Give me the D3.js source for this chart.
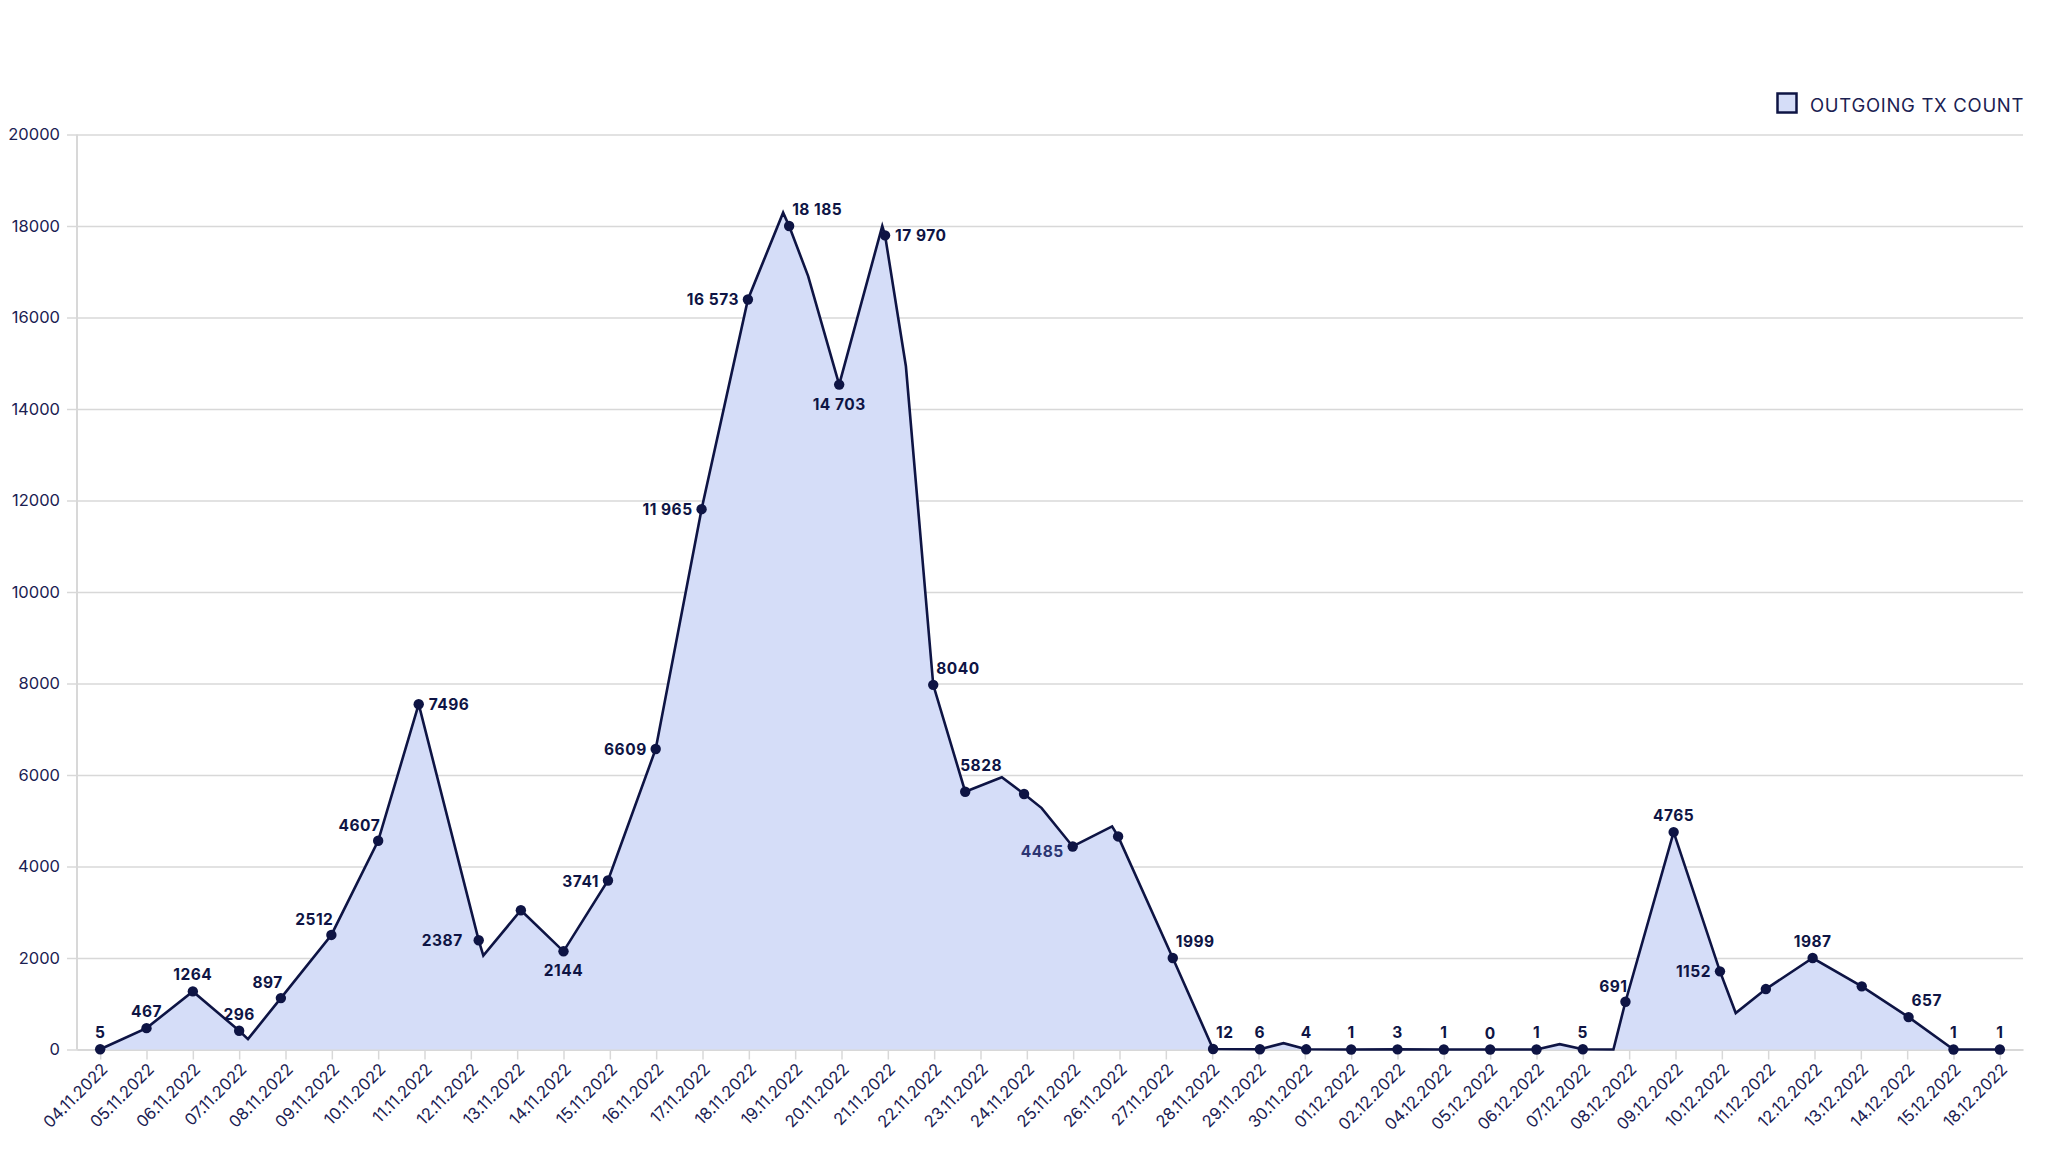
<!DOCTYPE html>
<html><head><meta charset="utf-8">
<script src="https://cdn.jsdelivr.net/npm/d3@7"></script>
<style>
html,body{margin:0;padding:0;background:#fff;}
svg{display:block;font-family:Inter,"Noto Sans",sans-serif;}
</style></head><body>
<svg id="chart" width="2048" height="1152"></svg>
<script>
// ---------- data ----------
const categories = ["04.11.2022","05.11.2022","06.11.2022","07.11.2022","08.11.2022","09.11.2022","10.11.2022","11.11.2022","12.11.2022","13.11.2022","14.11.2022","15.11.2022","16.11.2022","17.11.2022","18.11.2022","19.11.2022","20.11.2022","21.11.2022","22.11.2022","23.11.2022","24.11.2022","25.11.2022","26.11.2022","27.11.2022","28.11.2022","29.11.2022","30.11.2022","01.12.2022","02.12.2022","04.12.2022","05.12.2022","06.12.2022","07.12.2022","08.12.2022","09.12.2022","10.12.2022","11.12.2022","12.12.2022","13.12.2022","14.12.2022","15.12.2022","18.12.2022"];
// value labels printed next to the points (null = no label shown)
const labelValues = [5,467,1264,296,897,2512,4607,7496,2387,null,2144,3741,6609,11965,16573,18185,14703,17970,8040,5828,null,4485,null,1999,12,6,4,1,3,1,0,1,5,691,4765,1152,null,1987,null,657,1,1];
// height at which each point is drawn
const pointValues = [5,467,1270,409,1124,2504,4562,7547,2387,3044,2146,3693,6569,11810,16394,18000,14533,17796,7971,5635,5584,4438,4657,2000,12,6,4,1,3,1,0,1,5,1044,4752,1708,1321,2000,1380,708,1,1];
// where each point sits along the date axis, in day-slot units
const pointSlots = [0,1,2,3,3.9,4.99,6,6.875,8.17,9.08,10,10.96,11.99,12.98,13.98,14.87,15.95,16.94,17.98,18.67,19.94,20.99,21.97,23.15,24.02,25.03,26.03,27,28,29,30,31,32,32.92,33.96,34.96,35.95,36.96,38.02,39.03,40,41];
// extra bends of the line between points
const bendSlots  = [3.19,8.27,14.74,15.28,16.88,17.39,19.46,20.32,21.84,25.54,31.5,32.66,35.3];
const bendValues = [226,2051,18292,16905,18000,14934,5949,5277,4876,139,117,0,796];
const yTicks = [0,2000,4000,6000,8000,10000,12000,14000,16000,18000,20000];
const seriesName = "OUTGOING TX COUNT";
// side of the point on which each value label is placed
const labelSides = ["t","t","t","t","tl","tl","tl","r","ll",null,"b","l","l","l","l","tr","b","r","tr","tt",null,"lb",null,"tr","tr","t","t","t","t","t","t","t","t","tl","t","l",null,"t",null,"tr","t","t"];

// ---------- styles ----------
const NAVY = "#0e1444", FILL = "#d5ddf8", GRID = "#d8d8d8", TEXT = "#1b2152", MUTED = "#2b3572";

const svg = d3.select("#chart");
const x = d3.scalePoint().domain(categories).range([77, 2023]).padding(0.5);
const xs = d3.scaleLinear().domain([0, categories.length - 1])
  .range([x(categories[0]), x(categories[categories.length - 1])]);
const y = d3.scaleLinear().domain([0, 20000]).range([1049.5, 134.5]);

// gridlines
const grid = svg.append("g").attr("transform", "translate(77,0)")
  .call(d3.axisLeft(y).tickValues(yTicks).tickSize(-(2023 - 77)).tickFormat(""));
grid.select(".domain").remove();
grid.selectAll("line").attr("stroke", GRID).attr("stroke-width", 1.5);

// y axis ticks + labels
const ya = svg.append("g").attr("transform", "translate(77,0)")
  .call(d3.axisLeft(y).tickValues(yTicks).tickSize(10).tickPadding(7).tickFormat(d3.format("d")));
ya.select(".domain").remove();
ya.selectAll("line").attr("stroke", GRID).attr("stroke-width", 1.5);
ya.selectAll("text").attr("fill", TEXT).attr("font-size", 16.5).attr("font-family", "Inter");
svg.append("line").attr("x1", 77).attr("x2", 77).attr("y1", y(20000)).attr("y2", y(0))
  .attr("stroke", GRID).attr("stroke-width", 2);

// x axis
const xa = svg.append("g").attr("transform", `translate(0,${y(0)})`)
  .call(d3.axisBottom(x).tickSize(10).tickSizeOuter(0));
xa.select(".domain").attr("stroke", GRID).attr("stroke-width", 2);
xa.selectAll("line").attr("stroke", GRID).attr("stroke-width", 1.5);
xa.selectAll("text")
  .attr("fill", TEXT).attr("font-size", 16.5).attr("font-family", "Inter")
  .attr("text-anchor", "end")
  .attr("y", 0).attr("dy", 0)
  .attr("transform", "translate(8,21) rotate(-45)");

// series
const points = pointSlots.map((s, i) => ({s, v: pointValues[i], label: labelValues[i], side: labelSides[i]}));
const bends = bendSlots.map((s, i) => ({s, v: bendValues[i]}));
const path = points.concat(bends).sort((a, b) => a.s - b.s);

svg.append("path").datum(path)
  .attr("d", d3.area().x(d => xs(d.s)).y0(y(0)).y1(d => y(d.v)))
  .attr("fill", FILL);
svg.append("path").datum(path)
  .attr("d", d3.line().x(d => xs(d.s)).y(d => y(d.v)))
  .attr("fill", "none").attr("stroke", NAVY).attr("stroke-width", 2.6)
  .attr("stroke-linejoin", "miter");

svg.append("g").selectAll("circle").data(points).join("circle")
  .attr("cx", d => xs(d.s)).attr("cy", d => y(d.v)).attr("r", 5.2).attr("fill", NAVY);

const fmtBig = d3.formatLocale({decimal: ".", thousands: " ", grouping: [3], currency: ["", ""]}).format(",d");
const fmt = v => v >= 10000 ? fmtBig(v) : String(v);
const place = {
  t:  {anchor: "middle", dx: 0,   dy: -11},
  tl: {anchor: "end",    dx: 2,   dy: -10},
  tr: {anchor: "start",  dx: 3,   dy: -11},
  tt: {anchor: "start",  dx: -5,  dy: -21},
  l:  {anchor: "end",    dx: -9,  dy: 6},
  ll: {anchor: "end",    dx: -16, dy: 6},
  lb: {anchor: "end",    dx: -9,  dy: 11},
  r:  {anchor: "start",  dx: 10,  dy: 6},
  b:  {anchor: "middle", dx: 0,   dy: 25}
};
svg.append("g").selectAll("text").data(points.filter(d => d.label !== null)).join("text")
  .attr("x", d => xs(d.s) + place[d.side].dx)
  .attr("y", d => y(d.v) + place[d.side].dy)
  .attr("text-anchor", d => place[d.side].anchor)
  .attr("font-size", 15.5).attr("font-weight", 700).attr("letter-spacing", 0.5)
  .attr("fill", d => d.side === "lb" ? MUTED : NAVY)
  .text(d => fmt(d.label));

// legend
svg.append("rect").attr("x", 1777.5).attr("y", 93.5).attr("width", 19).attr("height", 19)
  .attr("fill", FILL).attr("stroke", NAVY).attr("stroke-width", 2.5);
svg.append("text").attr("x", 1810).attr("y", 111.5)
  .attr("font-size", 18.5).attr("letter-spacing", 0.7).attr("fill", TEXT)
  .text(seriesName);
</script>
</body></html>
